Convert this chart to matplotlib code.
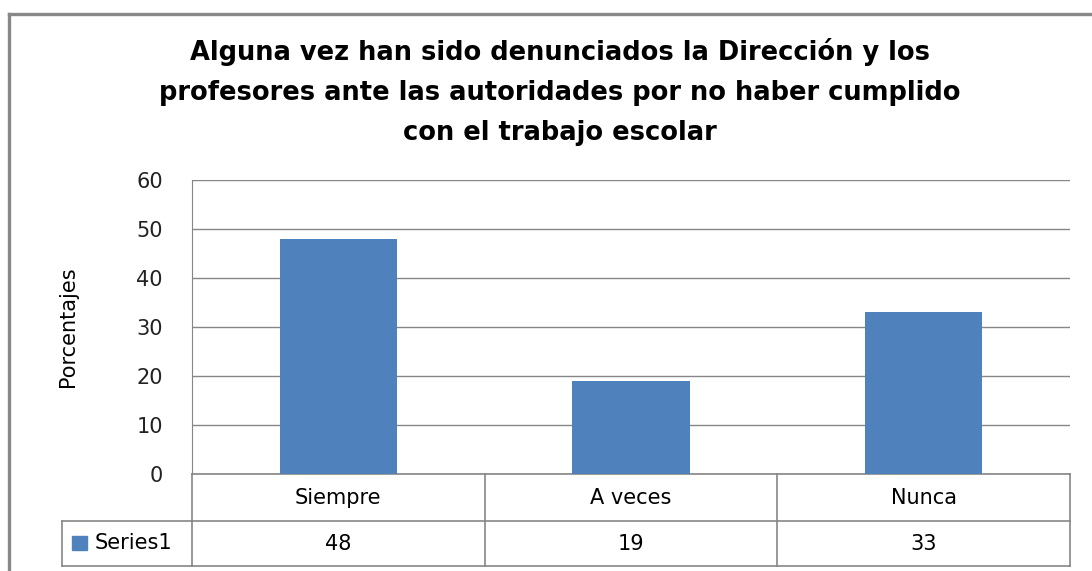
import matplotlib.pyplot as plt
from matplotlib.lines import Line2D

categorias = ["Siempre", "A veces", "Nunca"]
valores = [48, 19, 33]
serie = "Series1"
titulo = ("Alguna vez han sido denunciados la Dirección y los\n"
          "profesores ante las autoridades por no haber cumplido\n"
          "con el trabajo escolar")

W, H = 1092, 571
azul = "#4F81BD"
gris = "#868686"

fig = plt.figure(figsize=(W / 100, H / 100), dpi=100)
fig.patch.set_facecolor("white")

# marco exterior del grafico
fig.add_artist(Line2D([9 / W, 9 / W], [0, 1 - 14 / H], color="#888888", lw=2.4,
                      transform=fig.transFigure))
fig.add_artist(Line2D([9 / W, 1], [1 - 14 / H, 1 - 14 / H], color="#888888", lw=2.4,
                      transform=fig.transFigure))

left, right, top, bottom = 192, 1070, 180, 474
ax = fig.add_axes([left / W, 1 - bottom / H, (right - left) / W, (bottom - top) / H])

x = range(len(categorias))
ax.bar(x, valores, width=0.4, color=azul, zorder=3)
ax.set_xlim(-0.5, len(categorias) - 0.5)
ax.set_ylim(0, 60)
ax.set_yticks(range(0, 61, 10))
ax.yaxis.grid(True, color=gris, lw=1)
ax.set_axisbelow(True)
for s in ["top", "right", "bottom"]:
    ax.spines[s].set_visible(False)
ax.spines["left"].set_color(gris)
ax.tick_params(axis="y", length=0, pad=21, labelsize=15, labelcolor="#222222")
ax.tick_params(axis="x", length=0, labelbottom=False)
ax.set_ylabel("Porcentajes", fontsize=15, labelpad=42)

# tabla de datos debajo del eje
h = bottom - top
r1 = -(521 - bottom) / h
r2 = -(566 - bottom) / h
tr = ax.get_xaxis_transform()
kw = dict(color=gris, lw=1.2, transform=tr, clip_on=False)
n = len(categorias)
for xv in [i - 0.5 for i in range(n + 1)]:
    ax.add_line(Line2D([xv, xv], [0, r2], **kw))
ax.add_line(Line2D([-0.5, n - 0.5], [0, 0], **kw))
ax.add_line(Line2D([-0.5, n - 0.5], [r1, r1], **kw))
ax.add_line(Line2D([-0.5, n - 0.5], [r2, r2], **kw))
xl = -0.5 - (left - 62) / ((right - left) / n)
ax.add_line(Line2D([xl, -0.5], [r1, r1], **kw))
ax.add_line(Line2D([xl, -0.5], [r2, r2], **kw))
ax.add_line(Line2D([xl, xl], [r1, r2], **kw))

for i, (c, v) in enumerate(zip(categorias, valores)):
    ax.text(i, r1 / 2, c, ha="center", va="center", fontsize=15, transform=tr)
    ax.text(i, (r1 + r2) / 2, str(v), ha="center", va="center", fontsize=15, transform=tr)

ym = 1 - 543 / H
fig.add_artist(plt.Rectangle((72 / W, ym - 7 / H), 15 / W, 14 / H, color=azul,
                             transform=fig.transFigure))
fig.text(95 / W, ym, serie, ha="left", va="center", fontsize=15)

fig.text(560 / W, 1 - 92 / H, titulo, ha="center", va="center", fontsize=18.5,
         fontweight="bold", linespacing=1.7)

fig.savefig("out.png", dpi=100)
